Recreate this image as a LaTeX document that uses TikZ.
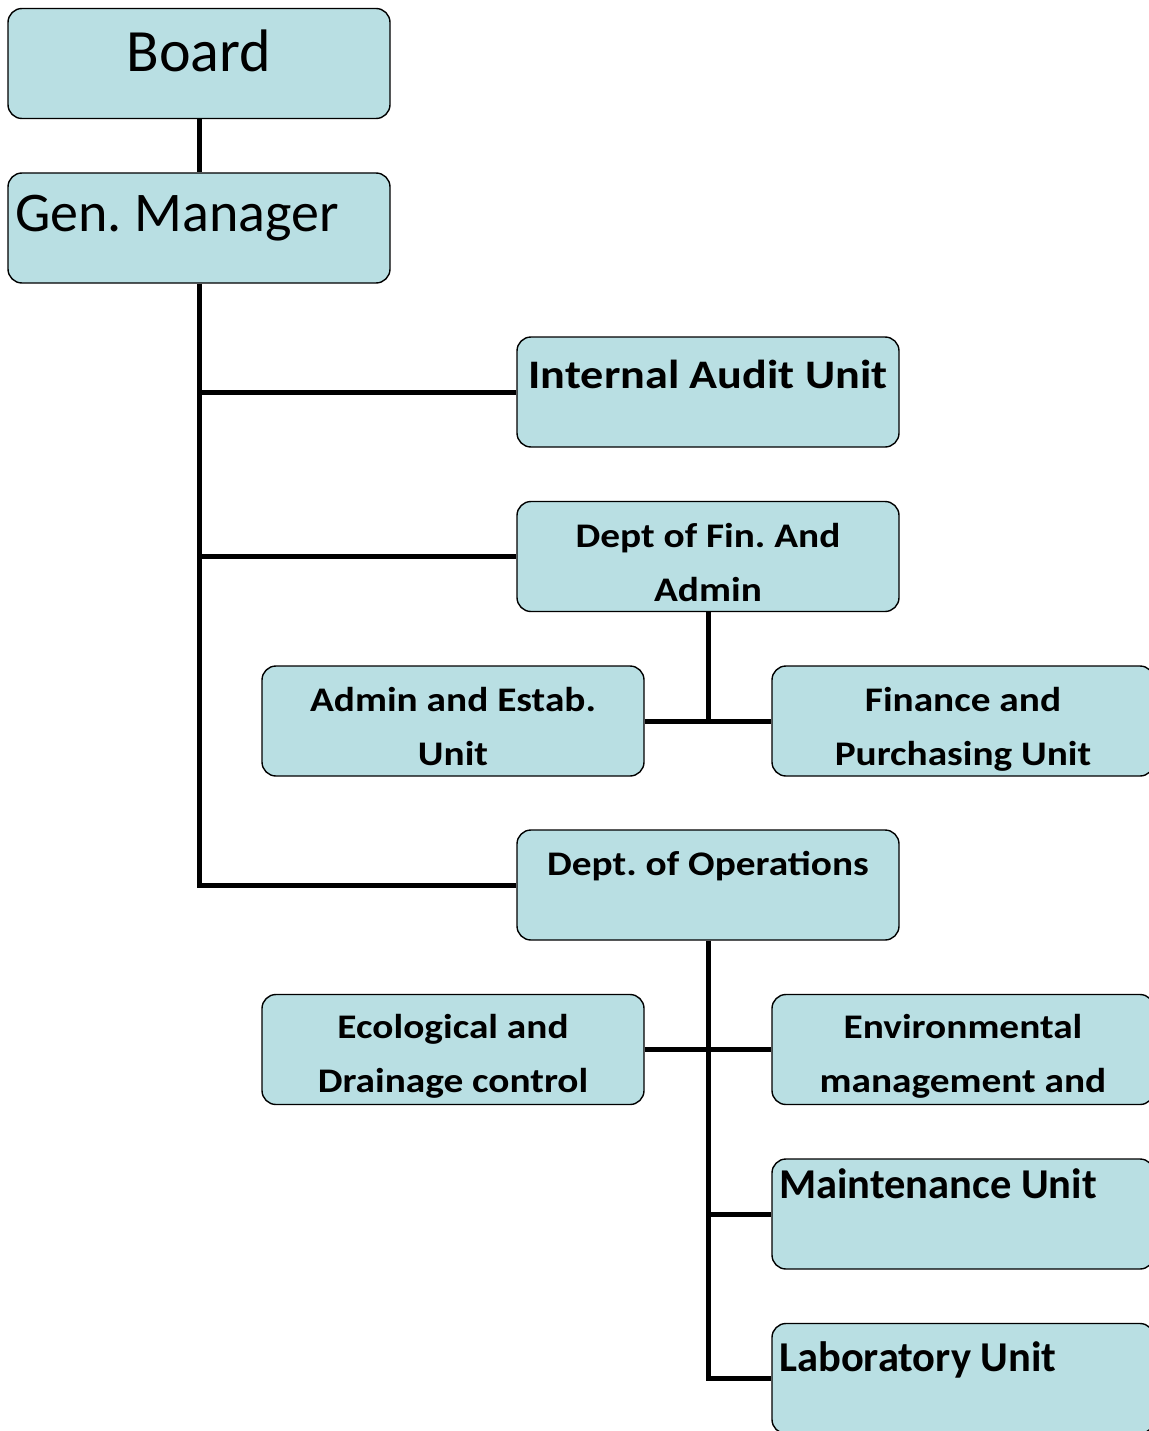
\documentclass[tikz,border=0pt]{standalone}
\usepackage{fontspec}
\setmainfont{Carlito}
\newfontfamily\widefont[FakeStretch=1.14]{Carlito}
\frenchspacing
\definecolor{boxfill}{RGB}{185,223,227}
\begin{document}
\begin{tikzpicture}[x=1pt,y=-1pt,
  unitbox/.style={draw=black, line width=1.4pt, fill=boxfill, rounded corners=14pt,
    minimum width=382pt, minimum height=110pt, inner sep=0pt},
  link/.style={line width=5pt, line join=miter},
  headtxt/.style={font=\fontsize{60}{72}\selectfont, inner sep=0pt, anchor=base},
  titletxt/.style={font=\widefont\fontsize{40.5}{48}\selectfont\bfseries, inner sep=0pt, anchor=base},
  unittxt/.style={font=\fontsize{42.5}{50}\selectfont\bfseries, inner sep=0pt, anchor=base west},
  bodytxt/.style={font=\widefont\fontsize{34.5}{40}\selectfont\bfseries, inner sep=0pt, anchor=base}]
\useasboundingbox (0,0) rectangle (1148,1431);

% boxes
\node[unitbox] (board) at (199,63.5) {};
\node[unitbox] (gm)    at (199,228) {};
\node[unitbox] (audit) at (708,392) {};
\node[unitbox] (dfa)   at (708,556.5) {};
\node[unitbox] (admin) at (453,721) {};
\node[unitbox] (fin)   at (963,721) {};
\node[unitbox] (ops)   at (708,885) {};
\node[unitbox] (eco)   at (453,1049.5) {};
\node[unitbox] (env)   at (963,1049.5) {};
\node[unitbox] (maint) at (963,1214) {};
\node[unitbox] (lab)   at (963,1378.5) {};

% labels
\node[headtxt] (tboard) at (199,72) {Board};
\node[headtxt, anchor=base west, font=\fontsize{56}{66}\selectfont] (tgm) at (15,232) {Gen. Manager};
\node[titletxt] (taudit) at (708,388) {Internal Audit Unit};
\node[bodytxt] (tdfa1) at (708,547) {Dept of Fin. And};
\node[bodytxt] (tdfa2) at (708,601) {Admin};
\node[bodytxt] (tadm1) at (453,711) {Admin and Estab.};
\node[bodytxt] (tadm2) at (453,765) {Unit};
\begin{scope}
  \clip (fin.north west) rectangle ([yshift=6pt]fin.south east);
  \node[bodytxt] (tfin1) at (963,711) {Finance and};
  \node[bodytxt] (tfin2) at (963,765) {Purchasing Unit};
\end{scope}
\node[bodytxt] (tops) at (708,875) {Dept. of Operations};
\node[bodytxt] (teco1) at (453,1038) {Ecological and};
\node[bodytxt] (teco2) at (453,1092) {Drainage control};
\node[bodytxt] (tenv1) at (963,1038) {Environmental};
\node[bodytxt] (tenv2) at (963,1092) {management and};
\node[unittxt] (tmaint) at (779,1198) {Maintenance Unit};
\node[unittxt] (tlab) at (779,1371) {Laboratory Unit};

% connectors
\draw[link] (board.south) -- (gm.north);
\draw[link] (gm.south) |- (ops.west);
\draw[link] (gm.south |- audit.west) -- (audit.west);
\draw[link] (gm.south |- dfa.west) -- (dfa.west);
\draw[link] (dfa.south) -- (dfa.south |- admin.east);
\draw[link] (admin.east) -- (fin.west);
\draw[link] (ops.south) |- (lab.west);
\draw[link] (eco.east) -- (env.west);
\draw[link] (ops.south |- maint.west) -- (maint.west);
\end{tikzpicture}
\end{document}
